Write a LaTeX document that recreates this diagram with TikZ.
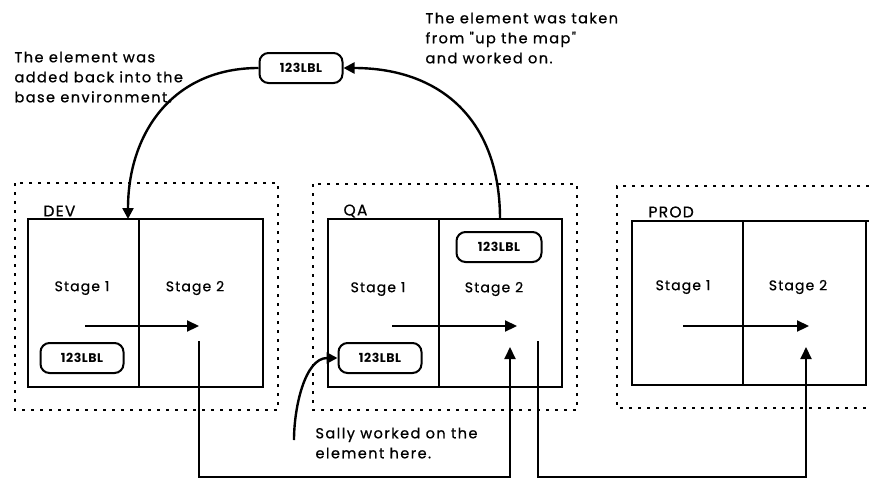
\documentclass[tikz,border=0pt]{standalone}
\usepackage{fontspec}
\setmainfont{Poppins}
\newfontfamily\notefont[LetterSpace=10,FakeBold=0.8]{Poppins}
\newfontfamily\stagefont[LetterSpace=8,FakeBold=0.6]{Poppins}
\newfontfamily\lblfont[LetterSpace=4]{Poppins}
\usetikzlibrary{arrows.meta}
\tikzset{
  env/.style={draw, line width=2pt, dash pattern=on 3pt off 6pt},
  stagebox/.style={draw, line width=2.6pt},
  divider/.style={line width=2.2pt},
  stagetxt/.style={font=\stagefont\fontsize{14}{16}\selectfont},
  envtxt/.style={font=\stagefont\fontsize{15.5}{17}\selectfont, anchor=west},
  lbl/.style={draw, line width=2pt, rounded corners=9pt, minimum width=83pt, minimum height=30pt, inner sep=0pt, font=\lblfont\fontsize{12.5}{13}\selectfont\bfseries},
  note/.style={align=left, anchor=west, font=\notefont\fontsize{14.5}{20}\selectfont},
  flow/.style={line width=2.2pt, -{Triangle[length=12pt,width=11pt]}},
  curvearrow/.style={line width=2.4pt, -{Triangle[length=11pt,width=11pt]}},
  link/.style={line width=2pt, -{Triangle[length=12pt,width=11pt]}}
}
\begin{document}
\begin{tikzpicture}[x=1pt,y=-1pt]
\useasboundingbox (0,0) rectangle (869,479);
% environments (dotted)
\draw[env] (15,183) rectangle (278,410);
\draw[env] (313,184) rectangle (577,410);
\draw[env] (869,186) -- (617,186) -- (617,408) -- (869,408);
% stage boxes
\node[stagebox, minimum width=235pt, minimum height=168pt, inner sep=0pt] (dev) at (145.5,303) {};
\draw[divider] (139,219) -- (139,387);
\node[stagebox, minimum width=234pt, minimum height=168pt, inner sep=0pt] (qa) at (445,303) {};
\draw[divider] (439,219) -- (439,387);
\draw[stagebox] (869,221) -- (632,221) -- (632,385) -- (866,385) -- (866,221);
\draw[divider] (743,221) -- (743,385);
% env names
\node[envtxt] (devname) at (40,211) {DEV};
\node[envtxt] (qaname) at (340,211) {QA};
\node[envtxt] (prodname) at (645,212) {PROD};
% stage names
\node[stagetxt] (d1) at (82,288) {Stage 1};
\node[stagetxt] (d2) at (195,288) {Stage 2};
\node[stagetxt] (q1) at (378,289) {Stage 1};
\node[stagetxt] (q2) at (494,289) {Stage 2};
\node[stagetxt] (p1) at (683,287) {Stage 1};
\node[stagetxt] (p2) at (798,287) {Stage 2};
% stage flow arrows
\coordinate (da) at (85,326); \coordinate (db) at (199,326);
\coordinate (qa1) at (392,326); \coordinate (qb1) at (517,326);
\coordinate (pa) at (683,326); \coordinate (pb) at (809,326);
\draw[flow] (da) -- (db);
\draw[flow] (qa1) -- (qb1);
\draw[flow] (pa) -- (pb);
% labels
\node[lbl] (lblTop) at (301,68) {123LBL};
\node[lbl] (lblDev) at (82,358) {123LBL};
\node[lbl, minimum width=85pt] (lblQA2) at (499,247) {123LBL};
\node[lbl] (lblQA1) at (380,358) {123LBL};
% curved arrows
\coordinate (devTop) at (128,219);
\coordinate (qaTop) at (500,219);
\draw[curvearrow] (lblTop.west) to[out=180,in=90,looseness=1.1] (devTop);
\draw[curvearrow] (qaTop) to[out=90,in=0,looseness=1.15] (lblTop.east);
\coordinate (sallyStart) at (294,440);
\draw[curvearrow] (sallyStart) to[out=90,in=180,looseness=0.9] (lblQA1.west);
% promotion links
\coordinate (devOut) at (199,341);
\coordinate (qaIn) at (510,347);
\coordinate (qaOut) at (538,341);
\coordinate (prodIn) at (806,347);
\draw[link] (devOut) -- (199,477) -| (qaIn);
\draw[link] (qaOut) -- (538,477) -| (prodIn);
% notes
\node[note] (n1) at (11,77) {The element was\\added back into the\\base environment.};
\node[note] (n2) at (422,38) {The element was taken\\from "up the map"\\and worked on.};
\node[note] (n3) at (312,443) {Sally worked on the\\element here.};
\end{tikzpicture}
\end{document}
